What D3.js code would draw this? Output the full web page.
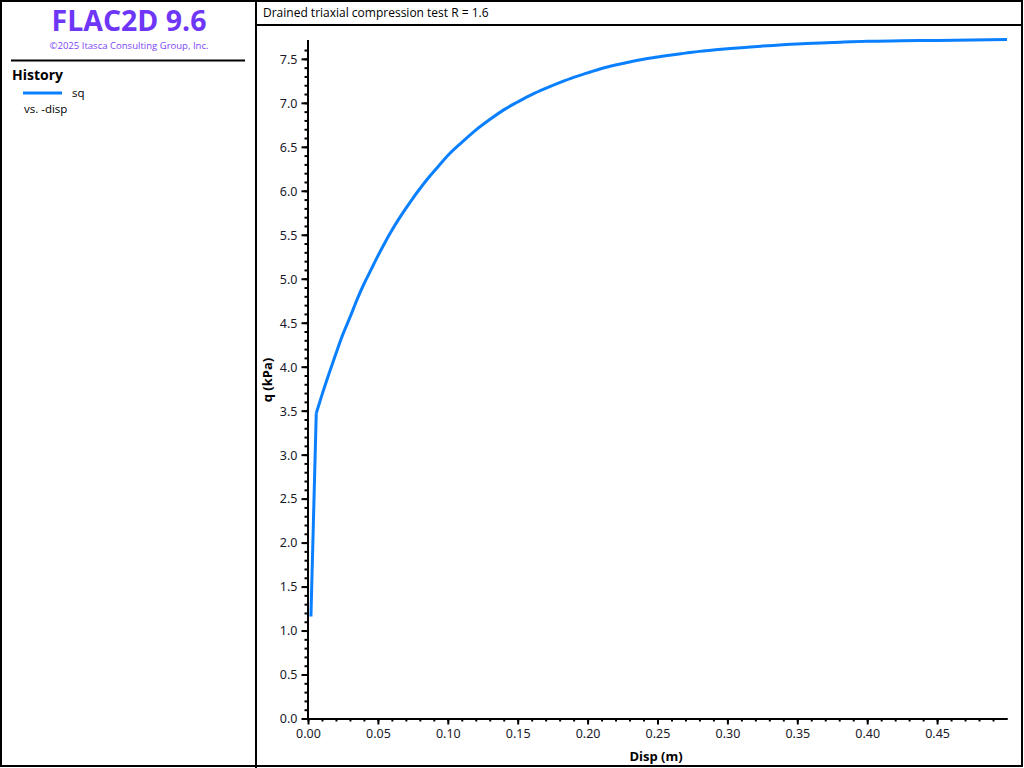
<!DOCTYPE html>
<html><head><meta charset="utf-8">
<script src="https://cdn.jsdelivr.net/npm/d3@7"></script>
<style>
html,body{margin:0;padding:0;background:#fff;}
svg{display:block;font-family:"Open Sans","Noto Sans","DejaVu Sans",sans-serif;}
</style></head>
<body>
<svg id="c" width="1024" height="768"></svg>
<script>
// ---- data ----
const dispValues = [0.0021, 0.0059, 0.010, 0.015, 0.020, 0.025, 0.030, 0.035, 0.040, 0.045, 0.050,
  0.055, 0.060, 0.065, 0.070, 0.075, 0.080, 0.085, 0.090, 0.095, 0.100,
  0.110, 0.120, 0.130, 0.140, 0.150, 0.160, 0.170, 0.180, 0.190, 0.200,
  0.210, 0.220, 0.230, 0.240, 0.250, 0.260, 0.270, 0.280, 0.290, 0.300,
  0.325, 0.350, 0.375, 0.400, 0.425, 0.450, 0.475, 0.500];
const qValues = [1.16, 3.47, 3.68, 3.92, 4.15, 4.37, 4.56, 4.76, 4.94, 5.10, 5.26,
  5.41, 5.55, 5.68, 5.80, 5.915, 6.023, 6.126, 6.22, 6.31, 6.40,
  6.55, 6.69, 6.81, 6.92, 7.01, 7.094, 7.165, 7.23, 7.29, 7.34,
  7.39, 7.43, 7.465, 7.495, 7.52, 7.545, 7.565, 7.585, 7.60, 7.615,
  7.645, 7.67, 7.685, 7.70, 7.705, 7.71, 7.715, 7.72];
const xTickValues = [0.00, 0.05, 0.10, 0.15, 0.20, 0.25, 0.30, 0.35, 0.40, 0.45];
const yTickValues = [0.0, 0.5, 1.0, 1.5, 2.0, 2.5, 3.0, 3.5, 4.0, 4.5, 5.0, 5.5, 6.0, 6.5, 7.0, 7.5];
const chartTitle = "Drained triaxial compression test R = 1.6";
const xLabel = "Disp (m)";
const yLabel = "q (kPa)";
const legendSeries = "sq";
const legendVs = "vs. -disp";

const svg = d3.select("#c");
const blue = "#0a80ff";

// frame
svg.append("rect").attr("x",1).attr("y",1).attr("width",1021).attr("height",765)
  .attr("fill","none").attr("stroke","#000").attr("stroke-width",2);
svg.append("line").attr("x1",256).attr("x2",256).attr("y1",0).attr("y2",768).attr("stroke","#000").attr("stroke-width",2);
svg.append("line").attr("x1",256).attr("x2",1023).attr("y1",25).attr("y2",25).attr("stroke","#000").attr("stroke-width",2);

// left panel
svg.append("text").attr("x",129).attr("y",31).attr("text-anchor","middle")
  .attr("font-size",28).attr("font-weight","bold").attr("fill","#6e36f6")
  .attr("textLength",155).attr("lengthAdjust","spacingAndGlyphs").text("FLAC2D 9.6");
svg.append("text").attr("x",129).attr("y",49).attr("text-anchor","middle")
  .attr("font-size",9.5).attr("fill","#7d45f6")
  .attr("textLength",159).attr("lengthAdjust","spacingAndGlyphs").text("©2025 Itasca Consulting Group, Inc.");
svg.append("line").attr("x1",11).attr("x2",245).attr("y1",60.5).attr("y2",60.5).attr("stroke","#000").attr("stroke-width",2);
svg.append("text").attr("x",12).attr("y",80).attr("font-size",14).attr("font-weight","bold").attr("fill","#000").text("History");
svg.append("line").attr("x1",23).attr("x2",62).attr("y1",93).attr("y2",93).attr("stroke",blue).attr("stroke-width",3);
svg.append("text").attr("x",72).attr("y",97).attr("font-size",11.5).attr("fill","#000").text(legendSeries);
svg.append("text").attr("x",24).attr("y",113).attr("font-size",11.5).attr("fill","#000").text(legendVs);

// title
svg.append("text").attr("x",263).attr("y",17).attr("font-size",12).attr("fill","#000").text(chartTitle);

// scales
const x = d3.scaleLinear().domain([0, 0.5]).range([308, 1007]);
const y = d3.scaleLinear().domain([0, 7.72]).range([718.5, 39.5]);

// y axis
const gy = svg.append("g").attr("transform","translate(307.5,0)");
gy.call(d3.axisLeft(y).tickValues(yTickValues).tickFormat(d3.format(".1f")).tickSize(6).tickSizeOuter(0));
gy.append("g").call(d3.axisLeft(y).tickValues(d3.range(0, 77).map(i=>i/10)).tickFormat("").tickSize(3).tickSizeOuter(0));
// x axis
const gx = svg.append("g").attr("transform","translate(0,718.5)");
gx.call(d3.axisBottom(x).tickValues(xTickValues).tickFormat(d3.format(".2f")).tickSize(6).tickSizeOuter(0));
gx.append("g").call(d3.axisBottom(x).tickValues(d3.range(0, 50).map(i=>i/100)).tickFormat("").tickSize(3).tickSizeOuter(0));

svg.selectAll(".domain").attr("stroke","#000").attr("stroke-width",2);
svg.selectAll(".tick line").attr("stroke","#000").attr("stroke-width",2);
svg.selectAll(".tick text").attr("font-size",12.5).attr("fill","#1a1a2a")
  .attr("font-family",'"Noto Sans","Open Sans",sans-serif');
gy.selectAll(".tick text").attr("x",-10).attr("dy","0.35em");
gx.selectAll(".tick text").attr("y",10).attr("dy","0.75em");

// axis labels
svg.append("text").attr("transform","translate(272,380) rotate(-90)").attr("text-anchor","middle")
  .attr("font-size",13).attr("font-weight","bold").attr("fill","#000").text(yLabel);
svg.append("text").attr("x",656).attr("y",761).attr("text-anchor","middle")
  .attr("font-size",13).attr("font-weight","bold").attr("fill","#000").text(xLabel);

// curve: initial elastic segment (straight) + smooth hardening part
const data = dispValues.map((d,i)=>({d, q:qValues[i]}));
svg.append("path").datum(data.slice(0, 2))
  .attr("fill","none").attr("stroke",blue).attr("stroke-width",3)
  .attr("d", d3.line().x(p=>x(p.d)).y(p=>y(p.q)));
svg.append("path").datum(data.slice(1))
  .attr("fill","none").attr("stroke",blue).attr("stroke-width",3)
  .attr("d", d3.line().x(p=>x(p.d)).y(p=>y(p.q)).curve(d3.curveMonotoneX));
</script>
</body></html>
